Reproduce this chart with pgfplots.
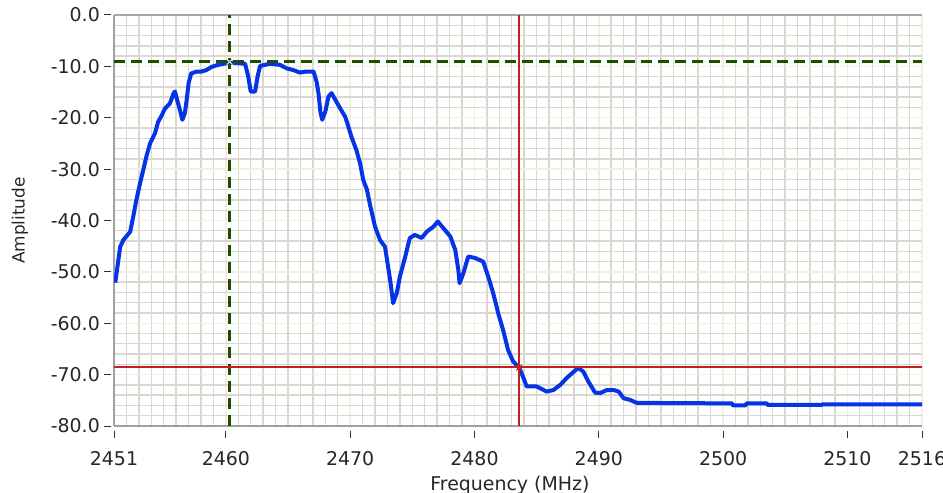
\documentclass[border=0pt]{standalone}
\usepackage{fontspec}
\setmainfont{DejaVu Sans}
\usepackage{pgfplots}
\pgfplotsset{compat=1.18}
\definecolor{gridminor}{HTML}{DAD7D0}
\definecolor{gridmajor}{HTML}{F2EFDD}
\definecolor{axgray}{HTML}{A0A0A0}
\definecolor{curveblue}{HTML}{0533E6}
\definecolor{cursgreen}{HTML}{1F4D00}
\definecolor{cursred}{HTML}{C02020}
\begin{document}
\begin{tikzpicture}
\useasboundingbox (0,0) rectangle (943bp,493bp);
\begin{axis}[
  at={(114bp,67bp)}, anchor=south west,
  scale only axis, width=808bp, height=411bp,
  xmin=2451, xmax=2516, ymin=-80, ymax=0,
  axis x line*=bottom, axis y line*=left,
  axis line style={axgray, line width=1.8bp},
  xtick={2451,2460,2470,2480,2490,2500,2510,2516},
  xticklabels={2451,2460,2470,2480,2490,2500,2510,2516},
  minor xtick={2452,...,2515},
  ytick={-80,-70,...,0},
  yticklabels={-80.0,-70.0,-60.0,-50.0,-40.0,-30.0,-20.0,-10.0,0.0},
  minor ytick={-78,-76,...,-2},
  grid=both,
  minor grid style={gridminor, line width=1.4bp},
  major grid style={gridmajor, line width=1.4bp},
  tick align=outside,
  major tick length=7bp, minor tick length=0bp,
  xtick style={yshift=-5bp, black!80, line width=1bp},
  ytick style={xshift=-3bp, black!80, line width=1bp},
  tick label style={font=\fontsize{19}{19}\selectfont, text=black!85, inner sep=0pt},
  xticklabel shift=18bp,
  yticklabel shift=7bp,
  xlabel={Frequency (MHz)},
  ylabel={Amplitude},
  xlabel style={font=\fontsize{19}{19}\selectfont, text=black!85, at={(axis description cs:0.49,0)}, anchor=north, yshift=-50bp, inner sep=0pt},
  ylabel style={font=\fontsize{17}{17}\selectfont, text=black!85, at={(axis description cs:0,0.5)}, anchor=center, rotate=0, yshift=94bp, inner sep=0pt},
  clip=true,
]
\addplot[gray!70, line width=1.5bp, forget plot] coordinates {(2451,0) (2516,0)};
\addplot[curveblue, line width=4bp, line join=round] coordinates {
(2451.1,-52.1) (2451.35,-47.7) (2451.5,-45.1) (2451.75,-43.8) (2452.3,-42.2)
(2452.55,-39.2) (2452.8,-36.0) (2453.1,-32.7) (2453.35,-30.2) (2453.6,-27.6)
(2453.9,-25.0) (2454.3,-23.0) (2454.55,-20.8) (2454.85,-19.5) (2455.1,-18.2)
(2455.5,-17.2) (2455.8,-15.2) (2455.9,-14.9) (2456.3,-18.5) (2456.5,-20.4)
(2456.7,-19.1) (2456.85,-16.5) (2457.0,-13.3) (2457.2,-11.4) (2457.65,-11.0)
(2458.05,-11.0) (2458.45,-10.7) (2458.85,-10.1) (2459.4,-9.7) (2459.8,-9.5)
(2460.35,-9.3) (2461.0,-9.4) (2461.55,-9.5) (2461.8,-12.0) (2462.0,-14.9)
(2462.35,-14.9) (2462.55,-12.0) (2462.75,-9.9) (2463.55,-9.5) (2464.35,-9.7)
(2464.9,-10.4) (2465.4,-10.7) (2465.95,-11.2) (2466.5,-11.0) (2467.05,-11.0)
(2467.3,-13.0) (2467.45,-15.2) (2467.6,-18.8) (2467.75,-20.4) (2468.0,-18.8)
(2468.25,-15.9) (2468.5,-15.2) (2468.8,-16.5) (2469.2,-18.2) (2469.6,-19.8)
(2469.85,-21.7) (2470.1,-23.7) (2470.5,-26.3) (2470.8,-28.9) (2471.05,-32.1)
(2471.35,-34.0) (2471.6,-37.0) (2472.0,-41.2) (2472.4,-43.8) (2472.8,-45.1)
(2473.05,-49.0) (2473.25,-52.2) (2473.45,-56.1) (2473.75,-54.1) (2474.0,-50.9)
(2474.4,-47.3) (2474.8,-43.4) (2475.2,-42.8) (2475.75,-43.4) (2476.15,-42.2)
(2476.7,-41.2) (2477.05,-40.2) (2477.5,-41.5) (2478.05,-43.1) (2478.45,-45.7)
(2478.7,-49.6) (2478.8,-52.2) (2479.1,-50.3) (2479.5,-47.0) (2480.05,-47.3)
(2480.7,-48.0) (2481.1,-50.9) (2481.5,-54.1) (2481.9,-58.0) (2482.3,-61.3)
(2482.7,-65.2) (2483.1,-67.4) (2483.6,-68.7) (2483.9,-70.4) (2484.2,-72.3)
(2485.0,-72.3) (2485.8,-73.3) (2486.35,-73.0) (2486.9,-72.0) (2487.4,-70.7)
(2488.0,-69.4) (2488.35,-68.7) (2488.75,-69.4) (2489.15,-71.3) (2489.7,-73.5)
(2490.1,-73.6) (2490.65,-73.0) (2491.2,-73.0) (2491.6,-73.3) (2492.0,-74.6)
(2492.5,-74.9) (2493.05,-75.5) (2500.7,-75.6) (2500.8,-76.0) (2501.8,-76.0)
(2501.9,-75.6) (2503.5,-75.6) (2503.6,-75.9) (2507.9,-75.9) (2508.0,-75.8)
(2516,-75.8)
};
% cursors
\addplot[cursgreen, line width=3bp, dash pattern=on 11bp off 6bp] coordinates {(2460.3,-80) (2460.3,0)};
\addplot[cursgreen, line width=3bp, dash pattern=on 11bp off 6bp] coordinates {(2451,-9.1) (2516,-9.1)};
\addplot[cursred, line width=2bp] coordinates {(2483.6,-80) (2483.6,0)};
\addplot[cursred, line width=2bp] coordinates {(2451,-68.6) (2516,-68.6)};
\addplot[only marks, mark=x, mark size=4bp, cursred, line width=1bp] coordinates {(2483.6,-68.6)};
\addplot[only marks, mark=x, mark size=4bp, gridminor, line width=1bp] coordinates {(2460.3,-9.1)};
\end{axis}
\end{tikzpicture}
\end{document}
